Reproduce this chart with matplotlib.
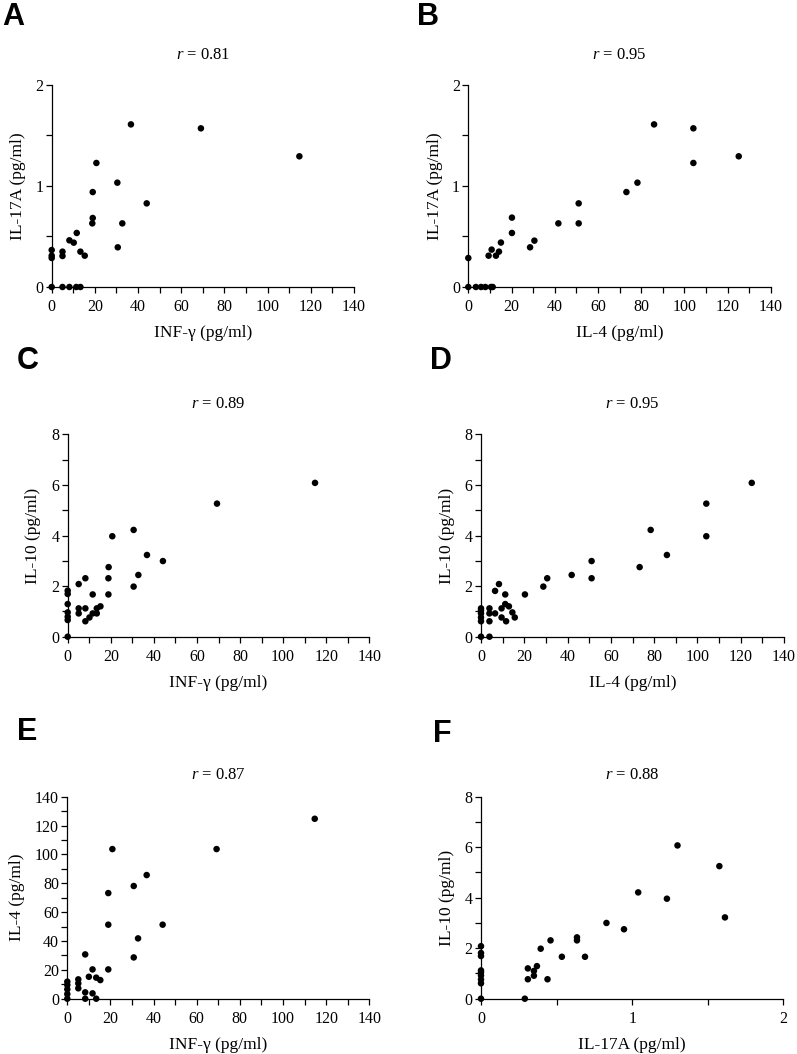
import matplotlib
matplotlib.use("Agg")
import matplotlib.pyplot as plt
import numpy as np

# ---------------- data ----------------
inf_A = [0, 0, 0, 0, 5, 5, 5, 8.2, 8.2, 10.2, 11.6, 11.4, 13.3, 13.3, 15.3,
         19, 19, 18.8, 20.7, 30.4, 30.6, 32.7, 36.7, 44, 69.1, 114.7]
il17_A = [0.366, 0.31, 0.287, 0, 0.35, 0.307, 0, 0.462, 0, 0.439, 0.535, 0, 0, 0.35, 0.31,
          0.94, 0.683, 0.63, 1.228, 1.033, 0.393, 0.63, 1.61, 0.828, 1.571, 1.294]

il4_B = [0, 0, 3.5, 5.9, 7.9, 10.5, 11.3, 9.4, 10.8, 12.8, 14.2, 15.1, 20.2, 20.2,
         28.6, 30.6, 41.7, 51.1, 51.1, 73.2, 78.3, 86, 104.2, 104.2, 125.2]
il17_B = [0.287, 0, 0, 0, 0, 0, 0, 0.31, 0.37, 0.31, 0.35, 0.44, 0.687, 0.535,
          0.393, 0.459, 0.63, 0.828, 0.63, 0.94, 1.033, 1.61, 1.571, 1.228, 1.294]

inf_C = [0, 0, 0, 0, 0, 0, 0, 5.1, 5.1, 5.1, 8.2, 8.2, 8.2, 10.1, 11.6, 11.6, 13.5, 13.5,
         15.2, 19, 18.9, 18.9, 20.7, 30.6, 30.6, 32.8, 36.8, 44.2, 69.3, 114.8]
il10_C = [0, 0.66, 0.79, 0.96, 1.29, 1.69, 1.82, 2.08, 1.12, 0.92, 2.31, 1.12, 0.61, 0.76,
          1.67, 0.92, 1.12, 0.92, 1.2, 2.75, 2.31, 1.67, 3.97, 4.22, 1.98, 2.44, 3.23, 2.99,
          5.26, 6.08]

il4_D = [0, 0, 0, 0, 0, 0, 3.9, 3.9, 3.9, 3.9, 6.5, 6.5, 8.3, 9.5, 9.5, 11.2, 11.2, 11.6,
         12.9, 14.5, 15.6, 20.3, 28.8, 30.6, 41.9, 51.1, 51.1, 73.3, 78.4, 85.9, 104.1,
         104.1, 125.1]
il10_D = [0, 0.61, 0.76, 0.92, 1.04, 1.12, 0, 0.61, 0.92, 1.12, 0.92, 1.81, 2.08, 1.12,
          0.76, 1.67, 1.29, 0.61, 1.2, 0.96, 0.76, 1.67, 1.98, 2.31, 2.44, 2.99, 2.31, 2.75,
          4.22, 3.23, 5.26, 3.97, 6.08]

inf_E = [0, 0, 0, 0, 0, 5.1, 5.1, 5.1, 8.3, 8.3, 8.3, 10, 11.7, 11.7, 13.4, 13.4, 15.3,
         19, 19, 19, 20.9, 30.8, 30.8, 32.8, 36.8, 44.2, 69.2, 114.7]
il4_E = [0, 3.2, 6.5, 9.5, 11.8, 13.4, 10.6, 7.2, 30.7, 4.4, 0, 15.2, 20.3, 3.7, 14.6, 0,
         12.9, 20.3, 51.3, 73.2, 103.7, 78.1, 28.6, 41.8, 85.7, 51.3, 103.7, 124.7]

il17_F = [0, 0, 0, 0, 0, 0, 0, 0, 0, 0.29, 0.31, 0.31, 0.35, 0.35, 0.37, 0.395, 0.44,
          0.46, 0.535, 0.635, 0.635, 0.688, 0.83, 0.946, 1.04, 1.23, 1.30, 1.577, 1.614]
il10_F = [0, 0.61, 0.76, 0.92, 1.04, 1.12, 1.69, 1.81, 2.08, 0, 1.2, 0.77, 1.1, 0.91,
          1.29, 1.98, 0.77, 2.31, 1.66, 2.43, 2.31, 1.66, 3.0, 2.75, 4.21, 3.96, 6.07,
          5.25, 3.22]

panel_letters = ["A", "B", "C", "D", "E", "F"]
r_values = ["0.81", "0.95", "0.89", "0.95", "0.87", "0.88"]
x_labels = ["INF-γ (pg/ml)", "IL-4 (pg/ml)", "INF-γ (pg/ml)", "IL-4 (pg/ml)",
            "INF-γ (pg/ml)", "IL-17A (pg/ml)"]
y_labels = ["IL-17A (pg/ml)", "IL-17A (pg/ml)", "IL-10 (pg/ml)", "IL-10 (pg/ml)",
            "IL-4 (pg/ml)", "IL-10 (pg/ml)"]

# ---------------- style ----------------
plt.rcParams['font.family'] = ['Liberation Serif', 'DejaVu Serif']
plt.rcParams['mathtext.fontset'] = 'custom'
plt.rcParams['mathtext.rm'] = 'Liberation Serif'
plt.rcParams['mathtext.it'] = 'Liberation Serif:italic'

W, H = 797, 1054
fig = plt.figure(figsize=(W / 100, H / 100), dpi=100)

# axes boxes in pixels: left, right, top, bottom
boxes = [
    (51.7, 354.0, 85.0, 287.0),
    (468.3, 770.7, 85.0, 287.0),
    (67.7, 369.3, 434.3, 636.7),
    (481.0, 784.0, 434.3, 636.7),
    (67.3, 369.3, 796.7, 998.7),
    (481.0, 783.3, 796.7, 998.7),
]
letter_pos = [(2, 2), (417, 2), (17, 346), (430, 346), (17, 717), (433, 719)]
title_pads = [19, 19, 18.7, 18.7, 13, 13]
ylabel_off = [34, 33, 35, 34, 50, 34]

data = [(inf_A, il17_A), (il4_B, il17_B), (inf_C, il10_C), (il4_D, il10_D),
        (inf_E, il4_E), (il17_F, il10_F)]

xlims = [140, 140, 140, 140, 140, 2]
ylims = [2, 2, 8, 8, 140, 8]
x_all = [np.arange(0, 141, 10)] * 5 + [np.arange(0, 2.01, 0.5)]
x_lab = [np.arange(0, 141, 20)] * 5 + [np.arange(0, 2.01, 1)]
y_all = [np.arange(0, 2.01, 0.5), np.arange(0, 2.01, 0.5), np.arange(0, 8.01, 1),
         np.arange(0, 8.01, 1), np.arange(0, 141, 10), np.arange(0, 8.01, 1)]
y_lab = [np.arange(0, 2.01, 1), np.arange(0, 2.01, 1), np.arange(0, 8.01, 2),
         np.arange(0, 8.01, 2), np.arange(0, 141, 20), np.arange(0, 8.01, 2)]


def fmt(v):
    return f"{v:g}"


for i in range(6):
    l, r, t, b = boxes[i]
    ax = fig.add_axes([l / W, 1 - b / H, (r - l) / W, (b - t) / H])
    xs, ys = data[i]
    ax.scatter(xs, ys, s=22, color='black', edgecolors='none', zorder=5, clip_on=False)
    ax.set_xlim(0, xlims[i])
    ax.set_ylim(0, ylims[i])
    for sp in ['top', 'right']:
        ax.spines[sp].set_visible(False)
    for sp in ['left', 'bottom']:
        ax.spines[sp].set_linewidth(0.9)
    ax.set_xticks(x_all[i])
    ax.set_xticklabels([fmt(v) if np.any(np.isclose(v, x_lab[i])) else "" for v in x_all[i]])
    ax.set_yticks(y_all[i])
    ax.set_yticklabels([fmt(v) if np.any(np.isclose(v, y_lab[i])) else "" for v in y_all[i]])
    ax.tick_params(axis='both', length=4.5, width=0.9, labelsize=11.5, direction='out')
    ax.tick_params(axis='x', pad=4)
    ax.tick_params(axis='y', pad=1.5)
    ax.set_xlabel(x_labels[i], fontsize=12.5)
    ax.xaxis.set_label_coords(0.5, -46 / (b - t))
    ax.xaxis.label.set_va('center')
    ax.set_ylabel(y_labels[i], fontsize=12.5)
    ax.yaxis.set_label_coords(-ylabel_off[i] / (r - l), 0.5)
    ax.yaxis.label.set_va('center')
    ax.set_title(r"$r$ = " + r_values[i], fontsize=12, pad=title_pads[i])
    lx, ly = letter_pos[i]
    fig.text(lx / W, 1 - ly / H, panel_letters[i], fontsize=22, fontweight='bold',
             family='Liberation Sans', ha='left', va='top')

fig.savefig("out.png", dpi=100)
